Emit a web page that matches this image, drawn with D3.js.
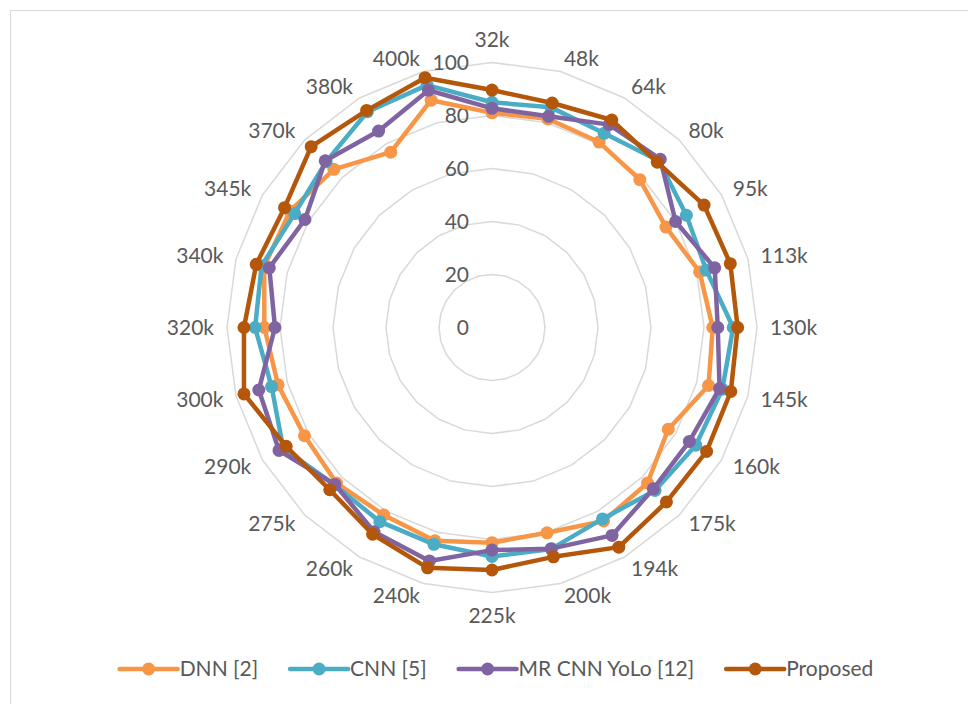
<!DOCTYPE html>
<html><head><meta charset="utf-8">
<script src="https://cdn.jsdelivr.net/npm/d3@7"></script>
<style>body{margin:0;background:#fff}svg{display:block}text{font-family:Lato,"Open Sans",sans-serif}</style>
</head><body><svg id="c" width="968" height="704"></svg>
<script>
const categories = ["32k","48k","64k","80k","95k","113k","130k","145k","160k","175k","194k","200k","225k","240k","260k","275k","290k","300k","320k","340k","345k","370k","380k","400k"];
const dnn      = [81,81.5,80.8,78.9,75.8,81.1,83.3,84.6,76.8,83,84.3,80.2,81.2,83.3,81.7,83,81.7,83.6,85.9,89,88,84.4,76.4,88.8];
const cnn      = [85,86,84.6,89,84.7,83.7,91,90,88.8,87,83.4,86.5,86.4,84.7,84.6,84,91,86.1,89.4,90,86,88.5,94,94.7];
const mrcnn    = [82.7,82.5,88.4,89.8,80,87,85.2,88.9,86,86.1,90.6,86.4,84,91.2,89,83.8,92.8,91.1,81.9,87,81.5,89,85.6,92.7];
const proposed = [89.6,87.7,90.4,88.2,92.4,93.1,92.7,93.3,93.5,93.1,95.7,89.6,91.5,93.9,90.1,86.6,89.7,96.9,93.6,92.1,90.4,96.5,94.6,97.6];
const seriesNames = ["DNN [2]","CNN [5]","MR CNN YoLo [12]","Proposed"];
const seriesColors = ["#F79646","#4BACC6","#8064A2","#B5570A"];
const ringTicks = [0,20,40,60,80,100];

const series = [dnn,cnn,mrcnn,proposed].map((v,i)=>({name:seriesNames[i],color:seriesColors[i],values:v}));
const svg = d3.select("#c");
const cx = 492, cy = 327.5;
const r = d3.scaleLinear().domain([0,100]).range([0,265]);
const ang = d3.scalePoint().domain(categories.concat(["_end"])).range([0,2*Math.PI]);
const pt = (c,v)=>{const a=ang(c);return [cx+Math.sin(a)*r(v), cy-Math.cos(a)*r(v)];};

// frame
svg.append("rect").attr("x",10.5).attr("y",10.5).attr("width",980).attr("height",720)
  .attr("fill","none").attr("stroke","#D9D9D9").attr("stroke-width",1);

const g = svg.append("g");
// rings
ringTicks.filter(t=>t>0).forEach(t=>{
  g.append("path").attr("d", d3.line()(categories.map(c=>pt(c,t)))+"Z")
   .attr("fill","none").attr("stroke","#D9D9D9").attr("stroke-width",1.5);
});
// ring labels
g.selectAll(".rl").data(ringTicks).join("text").attr("class","rl")
  .attr("x",cx-23).attr("y",d=>cy-r(d)).attr("dy","0.35em")
  .attr("text-anchor","end").attr("font-size",21).attr("fill","#595959").text(d=>d);

// category labels
categories.forEach(c=>{
  const a = ang(c), dx=Math.sin(a), dy=-Math.cos(a);
  const t = g.append("text").attr("font-size",21).attr("fill","#595959").text(c)
    .attr("text-anchor","middle").attr("dy","0.35em");
  const w = t.node().getComputedTextLength(), h = 20;
  const R = r(100)+13;
  const side = Math.abs(dx) < 0.05;
  const sx = side ? 0 : Math.sign(dx)*w/2;
  const sy = side ? Math.sign(dy)*h/2 : 0;
  t.attr("x", cx+dx*R+sx).attr("y", cy+dy*R+sy);
});

// series
series.forEach(s=>{
  const pts = categories.map((c,i)=>pt(c,s.values[i]));
  g.append("path").attr("d", d3.line()(pts)+"Z").attr("fill","none")
   .attr("stroke",s.color).attr("stroke-width",4.5).attr("stroke-linejoin","round");
  g.selectAll(null).data(pts).join("circle").attr("cx",d=>d[0]).attr("cy",d=>d[1])
   .attr("r",6.5).attr("fill",s.color);
});

// legend
const lg = svg.append("g");
let x = 0; const ly = 669, gap = 32, lineLen = 58;
series.forEach(s=>{
  const it = lg.append("g");
  it.append("line").attr("x1",0).attr("x2",lineLen).attr("y1",0).attr("y2",0)
    .attr("stroke",s.color).attr("stroke-width",4.5).attr("stroke-linecap","round");
  it.append("circle").attr("cx",lineLen/2).attr("cy",0).attr("r",6.5).attr("fill",s.color);
  const t = it.append("text").attr("x",lineLen+2).attr("y",0).attr("dy","0.35em")
    .attr("font-size",21).attr("fill","#595959").text(s.name);
  const w = lineLen+2+t.node().getComputedTextLength();
  it.attr("transform",`translate(${x},${ly})`);
  x += w + gap;
});
const total = x - gap;
lg.attr("transform",`translate(${496.5-total/2},0)`);
</script></body></html>
